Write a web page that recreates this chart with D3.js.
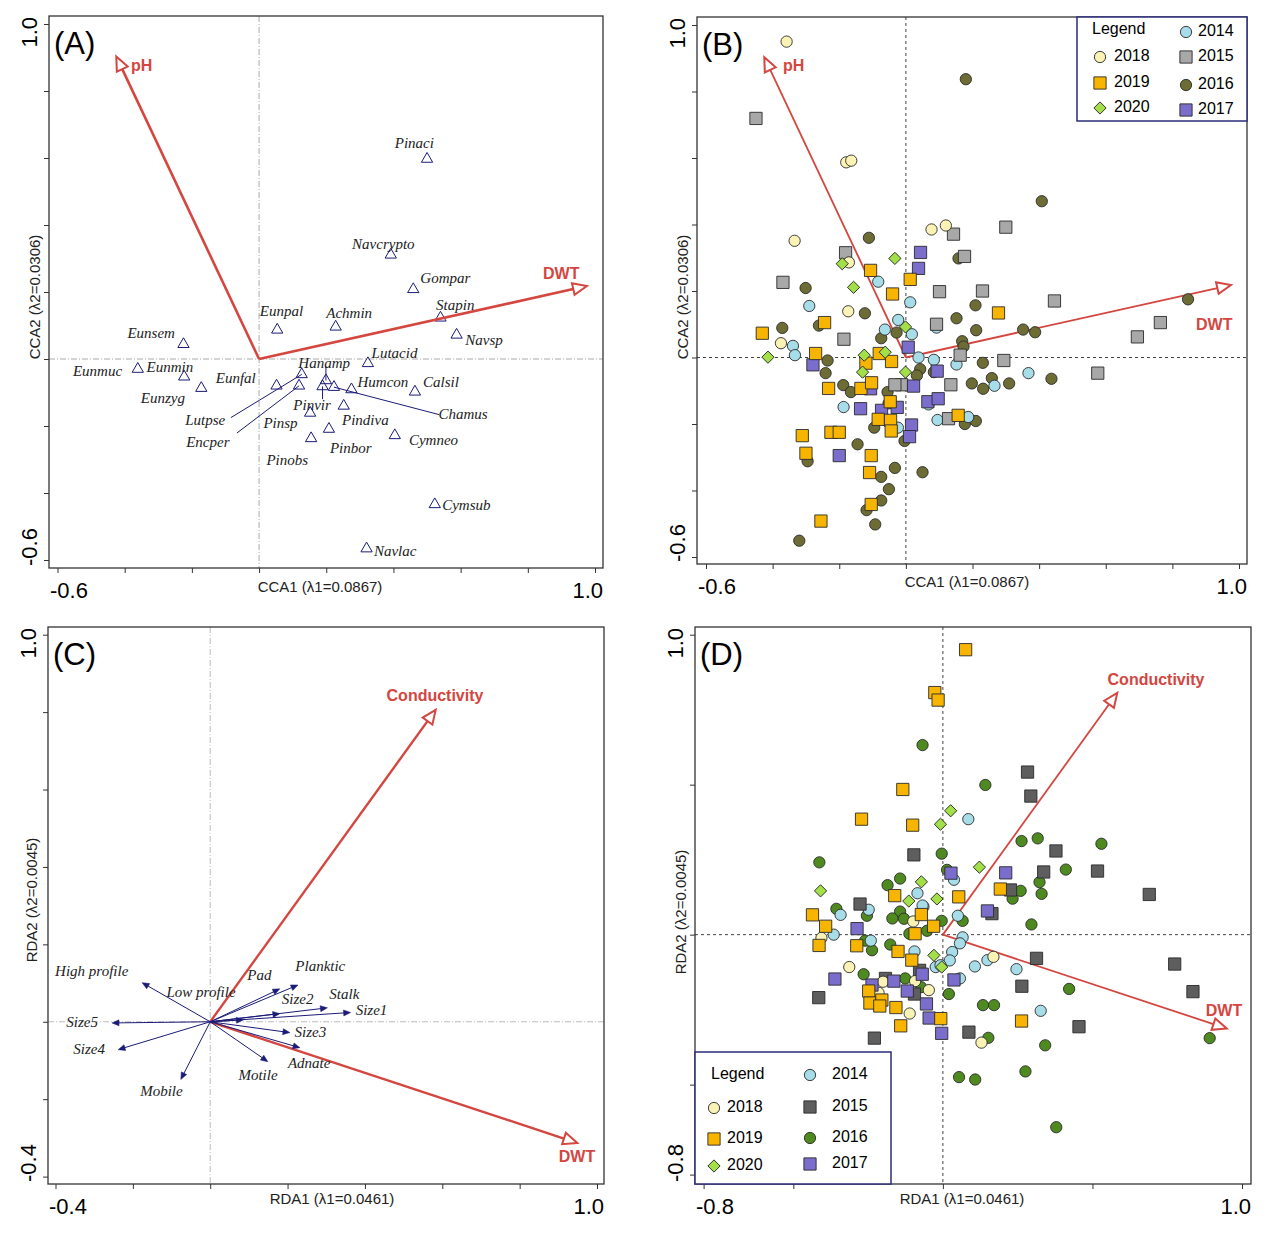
<!DOCTYPE html>
<html>
<head>
<meta charset="utf-8">
<script src="https://cdn.jsdelivr.net/npm/d3@7"></script>
<style>
  body { margin: 0; background: #fff; }
  svg { font-family: Arial, "Liberation Sans", sans-serif; }
  .sp { font-family: "Liberation Serif", "Times New Roman", serif; font-style: italic; font-size: 15px; fill: #222; }
</style>
</head>
<body>
<svg id="chart" width="1268" height="1233"></svg>
<script>
// ---- panel A: species scores (CCA) ----
const speciesA = ["Pinaci","Navcrypto","Gompar","Stapin","Navsp","Eunpal","Achmin","Eunsem","Eunmuc","Eunmin","Eunzyg",
  "Lutacid","Eunfal","Lutpse","Encper","Hanamp","Pinvir","Chamus","Humcon","Calsil","Pindiva","Pinsp","Pinbor","Pinobs",
  "Cymneo","Cymsub","Navlac"];
const speciesAX = [0.50,0.392,0.459,0.54,0.588,0.054,0.228,-0.225,-0.361,-0.223,-0.172,
  0.324,0.052,0.127,0.119,0.199,0.189,0.223,0.275,0.464,0.252,0.152,0.208,0.155,0.404,0.523,0.320];
const speciesAY = [0.597,0.311,0.208,0.123,0.072,0.087,0.096,0.044,-0.030,-0.053,-0.087,
  -0.013,-0.080,-0.046,-0.080,-0.064,-0.082,-0.084,-0.091,-0.098,-0.140,-0.161,-0.209,-0.237,-0.228,-0.434,-0.566];
// label anchors (left edge / middle) in axis units
const labelAX = [0.404,0.277,0.480,0.527,0.614,0.002,0.200,-0.392,-0.554,-0.335,-0.352,
  0.335,-0.129,-0.220,-0.217,0.117,0.102,0.534,0.293,0.488,0.247,0.013,0.211,0.022,0.446,0.545,0.342];
const labelAY = [0.639,0.340,0.236,0.157,0.053,0.140,0.134,0.074,-0.039,-0.028,-0.120,
  0.013,-0.062,-0.186,-0.253,-0.016,-0.143,-0.169,-0.074,-0.074,-0.187,-0.195,-0.270,-0.307,-0.245,-0.439,-0.577];
const leadersA = [["Lutpse",-0.084,-0.175],["Encper",-0.066,-0.221],["Hanamp",0.199,-0.022],["Pinvir",0.189,-0.120],["Chamus",0.536,-0.166]];

// ---- environmental arrows ----
const envCCA = [["pH",-0.425,0.903],["DWT",0.976,0.218]];
const envRDA = [["Conductivity",0.583,0.806],["DWT",0.949,-0.313]];

// ---- panel C: trait arrows (RDA) ----
const traits = ["High profile","Low profile","Pad","Planktic","Size2","Stalk","Size1","Size5","Size3","Size4","Adnate","Motile","Mobile"];
const traitX = [-0.176,0.086,0.180,0.227,0.180,0.303,0.363,-0.254,0.206,-0.238,0.232,0.149,-0.076];
const traitY = [0.101,0.005,0.085,0.095,0.021,0.036,0.024,-0.003,-0.028,-0.072,-0.067,-0.103,-0.149];
const traitLX = [-0.401,-0.113,0.096,0.220,0.185,0.308,0.376,-0.372,0.218,-0.354,0.201,0.073,-0.181];
const traitLY = [0.126,0.072,0.118,0.139,0.054,0.069,0.026,-0.005,-0.031,-0.075,-0.111,-0.141,-0.182];

// ---- panel B: site scores (CCA) by year ----
const b2014 = [[-0.29,0.155],[-0.083,0.228],[0.013,0.166],[-0.023,0.113],[-0.063,0.084],[0.018,0.07],[-0.339,0.035],[-0.333,0.007],
  [0.038,0],[0.084,-0.007],[0.092,0.09],[0.152,-0.021],[-0.187,-0.149],[0.068,-0.141],[0.095,-0.188],[0.187,-0.179],[0.266,-0.085],[0.368,-0.047],[-0.024,-0.211]];
const b2015 = [[-0.45,0.719],[0.30,0.392],[0.143,0.371],[0.176,0.304],[-0.181,0.315],[-0.369,0.226],[0.101,0.198],[0.23,0.2],[0.446,0.17],
  [0.092,0.10],[0.764,0.105],[0.695,0.062],[-0.186,0.055],[0.163,0.007],[0.294,-0.009],[0.576,-0.047],[0.135,-0.082],[-0.013,-0.082],[-0.033,-0.082],[0.128,-0.184]];
const b2016 = [[0.18,0.837],[0.408,0.47],[-0.111,0.36],[0.158,0.298],[-0.301,0.209],[-0.123,0.133],[0.209,0.157],[0.152,0.118],[-0.371,0.089],
  [-0.261,0.096],[-0.074,0.058],[-0.028,0.075],[0.211,0.082],[0.352,0.084],[0.388,0.076],[0.847,0.175],[0.169,0.049],[0.173,0.033],
  [-0.235,-0.009],[-0.241,-0.047],[0.231,-0.016],[0.043,-0.035],[0.033,-0.054],[0.084,-0.044],[0.258,-0.062],[-0.188,-0.083],[-0.165,-0.104],
  [0.198,-0.078],[0.232,-0.094],[0.31,-0.078],[0.437,-0.064],[-0.055,-0.104],[-0.052,-0.138],[-0.095,-0.211],[-0.145,-0.261],[-0.004,-0.251],
  [-0.074,-0.359],[-0.033,-0.332],[-0.051,-0.396],[-0.074,-0.43],[-0.118,-0.459],[-0.092,-0.502],[-0.32,-0.551],[0.05,-0.345],[-0.295,-0.312],
  [0.21,-0.191],[0.177,-0.2]];
const b2017 = [[0.044,0.316],[0.038,0.268],[0.007,0.031],[-0.279,-0.022],[0.094,-0.041],[0.023,-0.086],[-0.136,-0.154],[-0.073,-0.159],
  [-0.026,-0.15],[0.066,-0.133],[0.097,-0.124],[0.017,-0.203],[0.011,-0.238],[-0.2,-0.295],[-0.106,-0.094]];
const b2018 = [[-0.358,0.95],[-0.179,0.587],[-0.164,0.592],[0.077,0.385],[0.12,0.397],[-0.334,0.351],[-0.171,0.286],[-0.173,0.139],[-0.375,0.043]];
const b2019 = [[-0.106,0.262],[0.013,0.235],[-0.04,0.191],[0.278,0.134],[-0.244,0.105],[-0.431,0.073],[-0.271,0.012],[-0.08,0.012],[-0.043,-0.012],
  [-0.12,-0.017],[-0.232,-0.093],[-0.135,-0.093],[-0.103,-0.076],[-0.047,-0.133],[-0.083,-0.186],[-0.046,-0.189],[-0.044,-0.221],[0.157,-0.174],
  [-0.311,-0.235],[-0.225,-0.225],[-0.2,-0.225],[-0.3,-0.288],[-0.104,-0.295],[-0.109,-0.346],[-0.104,-0.442],[-0.255,-0.492]];
const b2020 = [[-0.191,0.282],[-0.033,0.298],[-0.157,0.211],[-0.001,0.092],[-0.414,0.001],[-0.125,0.007],[-0.062,0.016],[-0.13,-0.044],[-0.001,-0.044]];

// ---- panel D: site scores (RDA) by year ----
const d2014 = [[0.085,0.385],[0.037,0.183],[-0.085,0.138],[-0.065,0.093],[-0.248,0.083],[-0.342,0.066],[-0.365,0],[-0.241,-0.02],[0.05,0.063],
  [0.066,-0.009],[0.057,-0.029],[0.031,-0.058],[0.023,-0.086],[-0.095,-0.056],[-0.024,-0.108],[0.107,-0.106],[0.149,-0.085],[0.246,-0.115],
  [0.327,-0.254],[0.057,-0.146],[-0.068,0.097],[-0.008,-0.102]];
const d2015 = [[0.283,0.542],[0.294,0.462],[-0.097,0.266],[0.378,0.279],[0.337,0.209],[0.517,0.212],[0.69,0.134],[-0.277,0.102],[0.226,0.149],
  [0.164,0.07],[0.313,-0.079],[0.775,-0.098],[0.264,-0.172],[0.836,-0.19],[-0.415,-0.21],[0.455,-0.307],[0.087,-0.325],[-0.229,-0.345],
  [-0.078,-0.119],[-0.192,-0.146],[-0.095,-0.198]];
const d2016 = [[-0.068,0.632],[0.142,0.499],[-0.413,0.241],[0.263,0.312],[0.317,0.321],[0.53,0.303],[-0.004,0.27],[0.014,0.216],[-0.143,0.187],
  [-0.185,0.165],[0.411,0.217],[0.323,0.175],[0.26,0.146],[0.33,0.136],[0.233,0.12],[-0.356,0.086],[-0.254,0.063],[-0.143,0.077],[-0.169,0.054],
  [-0.13,0.053],[-0.004,0.046],[0.066,0.046],[0.296,0.034],[-0.053,0.013],[-0.112,0.003],[-0.176,-0.033],[-0.237,-0.052],[-0.265,-0.132],
  [-0.126,-0.146],[-0.073,-0.175],[0.02,-0.198],[0.134,-0.235],[0.171,-0.235],[0.422,-0.181],[0.152,-0.344],[0.342,-0.369],[0.892,-0.345],
  [0.276,-0.456],[0.054,-0.475],[0.108,-0.483],[0.379,-0.642],[-0.26,-0.02]];
const d2017 = [[0.027,0.205],[0.21,0.206],[0.149,0.079],[-0.287,0.02],[-0.069,-0.132],[-0.164,-0.155],[0.037,-0.151],[-0.361,-0.148],
  [-0.119,-0.188],[-0.055,-0.231],[-0.046,-0.278],[-0.004,-0.329],[-0.237,-0.168]];
const d2018 = [[-0.099,0.044],[-0.406,-0.011],[-0.313,-0.108],[-0.2,-0.157],[-0.093,-0.155],[-0.047,-0.185],[-0.215,-0.194],[-0.111,-0.263],[0.169,-0.074],[0.129,-0.36]];
const d2019 = [[0.076,0.95],[-0.027,0.807],[-0.016,0.782],[-0.134,0.484],[-0.272,0.385],[-0.101,0.365],[-0.161,0.13],[0.053,0.126],[0.192,0.152],
  [-0.072,0.067],[-0.031,0.028],[-0.093,0.003],[-0.436,0.066],[-0.392,0.028],[-0.414,-0.036],[-0.288,-0.037],[-0.15,-0.056],[-0.104,-0.085],
  [-0.248,-0.188],[-0.244,-0.228],[-0.204,-0.218],[-0.211,-0.238],[-0.157,-0.243],[-0.007,-0.28],[0.263,-0.288],[-0.141,-0.304]];
const d2020 = [[0.026,0.413],[-0.008,0.368],[0.122,0.225],[-0.072,0.176],[-0.409,0.146],[-0.114,0.112],[-0.02,0.119],[-0.03,-0.069],[-0.004,-0.108]];

const years = ["2014","2015","2016","2017","2018","2019","2020"];
const shapes = ["circle","square","circle","square","circle","square","diamond"];
const coloursB = ["#A6DDE8","#A8A8A8","#6C6C34","#7B6DCB","#FBF3B6","#F7B500","#A2DF48"];
const coloursD = ["#A6DDE8","#5E5E5E","#4E8A20","#7B6DCB","#FBF3B6","#F7B500","#A2DF48"];

const RED = "#D4463F", NAVY = "#1B1B78";
const svg = d3.select("#chart");

function makePanel(o) {
  const x = d3.scaleLinear().domain(o.xd).range(o.xr);
  const y = d3.scaleLinear().domain(o.yd).range(o.yr);
  const g = svg.append("g");
  const [bx0, by0, bx1, by1] = o.box;
  // zero lines
  g.append("line").attr("x1", x(0)).attr("x2", x(0)).attr("y1", by0).attr("y2", by1)
    .attr("stroke", o.zeroCol).attr("stroke-width", 1).attr("stroke-dasharray", o.zeroDash);
  g.append("line").attr("y1", y(0)).attr("y2", y(0)).attr("x1", bx0).attr("x2", bx1)
    .attr("stroke", o.zeroCol).attr("stroke-width", 1).attr("stroke-dasharray", o.zeroDash);
  // frame
  g.append("rect").attr("x", bx0).attr("y", by0).attr("width", bx1 - bx0).attr("height", by1 - by0)
    .attr("fill", "none").attr("stroke", "#333").attr("stroke-width", 1.3);
  // ticks via axes
  const xa = d3.axisBottom(x).tickValues(o.xt).tickSize(5).tickFormat("");
  g.append("g").attr("transform", `translate(0,${by1})`).call(xa).call(s => s.select(".domain").remove());
  const ya = d3.axisLeft(y).tickValues(o.yt).tickSize(5).tickFormat("");
  g.append("g").attr("transform", `translate(${bx0},0)`).call(ya).call(s => s.select(".domain").remove());
  g.selectAll(".tick line").attr("stroke", "#333");
  // end tick labels
  g.append("text").attr("x", bx0 + 1).attr("y", by1 + 30).attr("font-size", 22).text(o.xlab[0]);
  g.append("text").attr("x", bx1).attr("y", by1 + 30).attr("text-anchor", "end").attr("font-size", 22).text(o.xlab[1]);
  g.append("text").attr("transform", `translate(${bx0 - 12},${by0 + 1}) rotate(-90)`).attr("text-anchor", "end").attr("font-size", 22).text(o.ylab[1]);
  g.append("text").attr("transform", `translate(${bx0 - 12},${by1 - 2}) rotate(-90)`).attr("text-anchor", "start").attr("font-size", 22).text(o.ylab[0]);
  // axis titles
  g.append("text").attr("x", o.xTitlePos[0]).attr("y", o.xTitlePos[1]).attr("text-anchor", "middle").attr("font-size", 15).attr("fill", "#222").text(o.xTitle);
  g.append("text").attr("transform", `translate(${o.yTitlePos[0]},${o.yTitlePos[1]}) rotate(-90)`).attr("text-anchor", "middle").attr("font-size", 15).attr("fill", "#222").text(o.yTitle);
  // panel letter
  g.append("text").attr("x", bx0 + 5).attr("y", by0 + 38).attr("font-size", 31).text(o.letter);
  return { g, x, y };
}

function arrow(g, x, y, dx, dy, col, w, open, hl, hw) {
  const x0 = x(0), y0 = y(0), x1 = x(dx), y1 = y(dy);
  const a = Math.atan2(y1 - y0, x1 - x0);
  const bx = x1 - hl * Math.cos(a), by = y1 - hl * Math.sin(a);
  g.append("line").attr("x1", x0).attr("y1", y0).attr("x2", open ? bx : x1 - 2 * Math.cos(a)).attr("y2", open ? by : y1 - 2 * Math.sin(a))
    .attr("stroke", col).attr("stroke-width", w);
  const px = -Math.sin(a) * hw, py = Math.cos(a) * hw;
  g.append("path").attr("d", `M${x1},${y1}L${bx + px},${by + py}L${bx - px},${by - py}Z`)
    .attr("fill", open ? "#fff" : col).attr("stroke", col).attr("stroke-width", open ? 2 : 0.5);
}

const symGen = {
  circle: d3.symbol().type(d3.symbolCircle).size(100),
  square: d3.symbol().type(d3.symbolSquare).size(150),
  diamond: d3.symbol().type(d3.symbolSquare).size(75)
};
function marker(g, px, py, shape, col) {
  g.append("path").attr("d", symGen[shape]())
    .attr("transform", `translate(${px},${py})` + (shape === "diamond" ? " rotate(45)" : ""))
    .attr("fill", col).attr("stroke", "#2a2a2a").attr("stroke-width", 0.9);
}

function legend(g, box, cols, pos) {
  g.append("rect").attr("x", box[0]).attr("y", box[1]).attr("width", box[2]).attr("height", box[3])
    .attr("fill", "#fff").attr("stroke", "#2B2B7A").attr("stroke-width", 1.5);
  g.append("text").attr("x", pos.legend[0]).attr("y", pos.legend[1]).attr("font-size", 16).attr("dominant-baseline", "middle").text("Legend");
  const order = [4, 5, 6, 0, 1, 2, 3];
  order.forEach((k, i) => {
    const c = i < 3 ? pos.c1 : pos.c2, r = i < 3 ? i + 1 : i - 3;
    const yy = pos.rows[i < 3 ? 0 : 1][r];
    marker(g, c[0], yy, shapes[k], cols[k]);
    g.append("text").attr("x", c[1]).attr("y", yy).attr("font-size", 16).attr("dominant-baseline", "middle").text(years[k]);
  });
}

// ===== Panel A =====
{
  const { g, x, y } = makePanel({ xd: [-0.6, 1], xr: [57.5, 595], yd: [-0.6, 1], yr: [560, 24],
    box: [49, 16, 603, 568], xt: d3.range(-0.6, 1.01, 0.2), yt: d3.range(-0.6, 1.01, 0.2),
    xlab: ["-0.6", "1.0"], ylab: ["-0.6", "1.0"], zeroCol: "#aaa", zeroDash: "6,2,1,2",
    xTitle: "CCA1 (λ1=0.0867)", xTitlePos: [320, 592], yTitle: "CCA2 (λ2=0.0306)", yTitlePos: [40, 297], letter: "(A)" });
  leadersA.forEach(([n, lx, ly]) => {
    const i = speciesA.indexOf(n);
    g.append("line").attr("x1", x(lx)).attr("y1", y(ly)).attr("x2", x(speciesAX[i])).attr("y2", y(speciesAY[i]))
      .attr("stroke", NAVY).attr("stroke-width", 1);
  });
  const tri = d3.symbol().type(d3.symbolTriangle).size(55);
  speciesA.forEach((n, i) => {
    g.append("path").attr("d", tri()).attr("transform", `translate(${x(speciesAX[i])},${y(speciesAY[i])})`)
      .attr("fill", "none").attr("stroke", NAVY).attr("stroke-width", 1);
    g.append("text").attr("class", "sp").attr("x", x(labelAX[i])).attr("y", y(labelAY[i])).attr("dominant-baseline", "middle").text(n);
  });
  envCCA.forEach(([n, dx, dy]) => arrow(g, x, y, dx, dy, RED, 2.6, true, 14, 6));
  g.append("text").attr("x", 131).attr("y", 71).attr("fill", RED).attr("font-weight", "bold").attr("font-size", 16).text("pH");
  g.append("text").attr("x", 543).attr("y", 279).attr("fill", RED).attr("font-weight", "bold").attr("font-size", 16).text("DWT");
}

// ===== Panel B =====
{
  const { g, x, y } = makePanel({ xd: [-0.6, 1], xr: [706, 1239], yd: [-0.6, 1], yr: [557, 25],
    box: [697, 17, 1247, 564], xt: d3.range(-0.6, 1.01, 0.2), yt: d3.range(-0.6, 1.01, 0.2),
    xlab: ["-0.6", "1.0"], ylab: ["-0.6", "1.0"], zeroCol: "#444", zeroDash: "3,3",
    xTitle: "CCA1 (λ1=0.0867)", xTitlePos: [967, 587], yTitle: "CCA2 (λ2=0.0306)", yTitlePos: [688, 297], letter: "(B)" });
  const sets = [b2014, b2015, b2016, b2017, b2018, b2019, b2020];
  envCCA.forEach(([n, dx, dy]) => arrow(g, x, y, dx, dy, RED, 1.8, true, 14, 6));
  [2, 0, 1, 4, 3, 5, 6].forEach(k => sets[k].forEach(p => marker(g, x(p[0]), y(p[1]), shapes[k], coloursB[k])));
  g.append("text").attr("x", 783).attr("y", 71).attr("fill", RED).attr("font-weight", "bold").attr("font-size", 16).text("pH");
  g.append("text").attr("x", 1196).attr("y", 330).attr("fill", RED).attr("font-weight", "bold").attr("font-size", 16).text("DWT");
  legend(g, [1077, 17, 170, 104], coloursB,
    { legend: [1092, 30], c1: [1100, 1114], c2: [1186, 1198], rows: [[0, 57, 83, 108], [32, 57, 85, 110]] });
}

// ===== Panel C =====
{
  const { g, x, y } = makePanel({ xd: [-0.4, 1], xr: [55.5, 597], yd: [-0.4, 1], yr: [1176.6, 634.7],
    box: [48, 627, 604, 1184], xt: d3.range(-0.4, 1.01, 0.2), yt: d3.range(-0.4, 1.01, 0.2),
    xlab: ["-0.4", "1.0"], ylab: ["-0.4", "1.0"], zeroCol: "#bbb", zeroDash: "6,2,1,2",
    xTitle: "RDA1 (λ1=0.0461)", xTitlePos: [332, 1204], yTitle: "RDA2 (λ2=0.0045)", yTitlePos: [37, 900], letter: "(C)" });
  envRDA.forEach(([n, dx, dy]) => arrow(g, x, y, dx, dy, RED, 2.4, true, 14, 6));
  traits.forEach((n, i) => {
    arrow(g, x, y, traitX[i], traitY[i], NAVY, 1, false, 7, 3);
    g.append("text").attr("class", "sp").attr("x", x(traitLX[i])).attr("y", y(traitLY[i])).attr("dominant-baseline", "middle").text(n);
  });
  g.append("text").attr("x", 435).attr("y", 701).attr("text-anchor", "middle").attr("fill", RED).attr("font-weight", "bold").attr("font-size", 16).text("Conductivity");
  g.append("text").attr("x", 577).attr("y", 1162).attr("text-anchor", "middle").attr("fill", RED).attr("font-weight", "bold").attr("font-size", 16).text("DWT");
}

// ===== Panel D =====
{
  const { g, x, y } = makePanel({ xd: [-0.8, 1], xr: [703.6, 1242], yd: [-0.8, 1], yr: [1174.6, 634.7],
    box: [695, 627, 1251, 1184], xt: [-0.8, -0.5, 0, 0.5, 1.0], yt: [-0.8, -0.5, 0, 0.5, 1.0],
    xlab: ["-0.8", "1.0"], ylab: ["-0.8", "1.0"], zeroCol: "#444", zeroDash: "3,3",
    xTitle: "RDA1 (λ1=0.0461)", xTitlePos: [962, 1204], yTitle: "RDA2 (λ2=0.0045)", yTitlePos: [686, 912], letter: "(D)" });
  const sets = [d2014, d2015, d2016, d2017, d2018, d2019, d2020];
  envRDA.forEach(([n, dx, dy]) => arrow(g, x, y, dx, dy, RED, 1.8, true, 14, 6));
  [2, 0, 1, 4, 3, 5, 6].forEach(k => sets[k].forEach(p => marker(g, x(p[0]), y(p[1]), shapes[k], coloursD[k])));
  g.append("text").attr("x", 1156).attr("y", 685).attr("text-anchor", "middle").attr("fill", RED).attr("font-weight", "bold").attr("font-size", 16).text("Conductivity");
  g.append("text").attr("x", 1224).attr("y", 1016).attr("text-anchor", "middle").attr("fill", RED).attr("font-weight", "bold").attr("font-size", 16).text("DWT");
  legend(g, [695, 1052, 196, 132], coloursD,
    { legend: [711, 1075], c1: [714, 727], c2: [810, 832], rows: [[0, 1108, 1139, 1166], [1075, 1107, 1138, 1164]] });
}
</script>
</body>
</html>
